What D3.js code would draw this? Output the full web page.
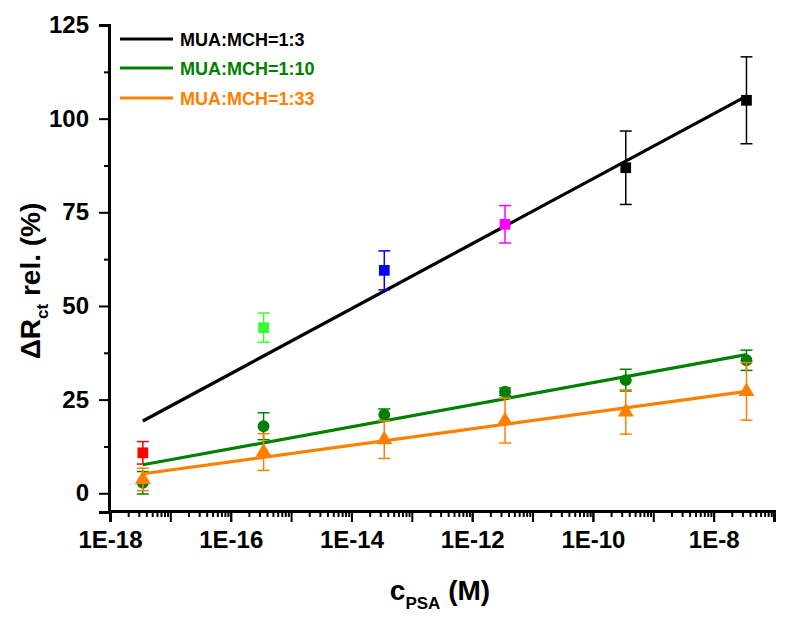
<!DOCTYPE html>
<html><head><meta charset="utf-8">
<script src="https://cdn.jsdelivr.net/npm/d3@7"></script>
<style>
body{margin:0;background:#fff;}
text{font-family:Arial,"Liberation Sans",sans-serif;font-weight:bold;}
</style></head>
<body><svg id="c" width="800" height="618"></svg>
<script>
const concentrations = [3.5e-18, 3.5e-16, 3.5e-14, 3.5e-12, 3.5e-10, 3.5e-8];
const seriesNames = ["MUA:MCH=1:3", "MUA:MCH=1:10", "MUA:MCH=1:33"];
const seriesColors = ["#000000", "#008000", "#ff8000"];
const values13 = [10.8, 44.2, 59.5, 71.8, 86.9, 104.9];
const errors13 = [3.0, 3.9, 5.2, 5.0, 9.8, 11.6];
const pointColors13 = ["#ff0000", "#33ff33", "#0000ff", "#ff00ff", "#000000", "#000000"];
const values110 = [2.8, 17.9, 21.0, 27.1, 30.2, 35.5];
const errors110 = [3.0, 3.6, 1.5, 1.0, 2.9, 2.7];
const values133 = [3.7, 11.0, 14.3, 19.4, 21.7, 27.2];
const errors133 = [3.0, 4.9, 5.0, 6.0, 5.9, 7.7];
const fit13 = [19.3, 106.0];
const fit110 = [7.6, 37.0];
const fit133 = [5.2, 27.2];
const yTicks = [0, 25, 50, 75, 100, 125];
const xTickLabels = ["1E-18", "1E-16", "1E-14", "1E-12", "1E-10", "1E-8"];
const xTickValues = [1e-18, 1e-16, 1e-14, 1e-12, 1e-10, 1e-8];

const svg = d3.select("#c");
const x = d3.scaleLog().domain([1e-18, 1e-7]).range([110, 774]);
const y = d3.scaleLinear().domain([-5, 125]).range([512, 25]);

// axes
const xAxisG = svg.append("g").attr("transform", "translate(0,511)");
const minorX = [];
for (let e = -18; e < -7; e++) for (let m = 2; m <= 9; m++) minorX.push(m * Math.pow(10, e));
const majorX = [];
for (let e = -18; e <= -7; e++) majorX.push(Math.pow(10, e));
xAxisG.call(d3.axisBottom(x).tickValues(minorX).tickSize(6).tickFormat(""));
xAxisG.append("g").call(d3.axisBottom(x).tickValues(majorX).tickSize(11).tickFormat(""));
xAxisG.append("g").call(d3.axisBottom(x).tickValues(xTickValues).tickSize(11).tickPadding(9)
  .tickFormat((d, i) => xTickLabels[i]));
xAxisG.selectAll(".domain").attr("stroke", "#000").attr("stroke-width", 3);
xAxisG.selectAll(".tick line").attr("stroke", "#000").attr("stroke-width", 2);
xAxisG.selectAll("text").attr("fill", "#000").style("font-size", "24px");

const yAxisG = svg.append("g").attr("transform", "translate(109,0)");
const minorY = d3.range(12.5, 125, 25);
yAxisG.call(d3.axisLeft(y).tickValues(minorY).tickSize(5).tickFormat(""));
yAxisG.append("g").call(d3.axisLeft(y).tickValues(yTicks).tickSize(10).tickPadding(10).tickFormat(d3.format("d")));
yAxisG.selectAll(".domain").attr("stroke", "#000").attr("stroke-width", 3);
yAxisG.selectAll(".tick line").attr("stroke", "#000").attr("stroke-width", 2);
yAxisG.selectAll("text").attr("fill", "#000").style("font-size", "24px");

// axis titles
const xt = svg.append("text").attr("x", 440).attr("y", 600).attr("text-anchor", "middle")
  .style("font-size", "28px");
xt.append("tspan").text("c");
xt.append("tspan").attr("dy", 9).style("font-size", "17px").text("PSA");
xt.append("tspan").attr("dy", -9).text(" (M)");

const yt = svg.append("text").attr("transform", "translate(40,281) rotate(-90)")
  .attr("text-anchor", "middle").style("font-size", "28px");
yt.append("tspan").text("ΔR");
yt.append("tspan").attr("dy", 8).style("font-size", "17px").text("ct");
yt.append("tspan").attr("dy", -8).text(" rel. (%)");

// series
const series = [
  {vals: values13, errs: errors13, fit: fit13, color: seriesColors[0], pcol: pointColors13, shape: d3.symbolSquare, size: 115},
  {vals: values110, errs: errors110, fit: fit110, color: seriesColors[1], pcol: null, shape: d3.symbolCircle, size: 110},
  {vals: values133, errs: errors133, fit: fit133, color: seriesColors[2], pcol: null, shape: d3.symbolTriangle, size: 110}
];
const xFit = [concentrations[0], concentrations[concentrations.length - 1]];
series.forEach(s => {
  const g = svg.append("g");
  const line = d3.line().x(d => x(d[0])).y(d => y(d[1]));
  g.append("path").datum(xFit.map((c, i) => [c, s.fit[i]])).attr("d", line)
    .attr("stroke", s.color).attr("stroke-width", 3.2).attr("fill", "none");
  concentrations.forEach((c, i) => {
    const col = s.pcol ? s.pcol[i] : s.color;
    const cx = x(c), v = s.vals[i], e = s.errs[i];
    g.append("line").attr("x1", cx).attr("x2", cx).attr("y1", y(v - e)).attr("y2", y(v + e))
      .attr("stroke", col).attr("stroke-width", 1.5);
    [v - e, v + e].forEach(t => g.append("line").attr("x1", cx - 6).attr("x2", cx + 6)
      .attr("y1", y(t)).attr("y2", y(t)).attr("stroke", col).attr("stroke-width", 1.5));
    g.append("path").attr("d", d3.symbol().type(s.shape).size(s.size)())
      .attr("transform", `translate(${cx},${y(v)})`).attr("fill", col);
  });
});

// legend
const legY = [39, 68, 98];
seriesNames.forEach((n, i) => {
  svg.append("line").attr("x1", 120).attr("x2", 173).attr("y1", legY[i]).attr("y2", legY[i])
    .attr("stroke", seriesColors[i]).attr("stroke-width", 3.2);
  svg.append("text").attr("x", 180).attr("y", legY[i] + 7).attr("fill", seriesColors[i])
    .style("font-size", "18px").text(n);
});
</script></body></html>
